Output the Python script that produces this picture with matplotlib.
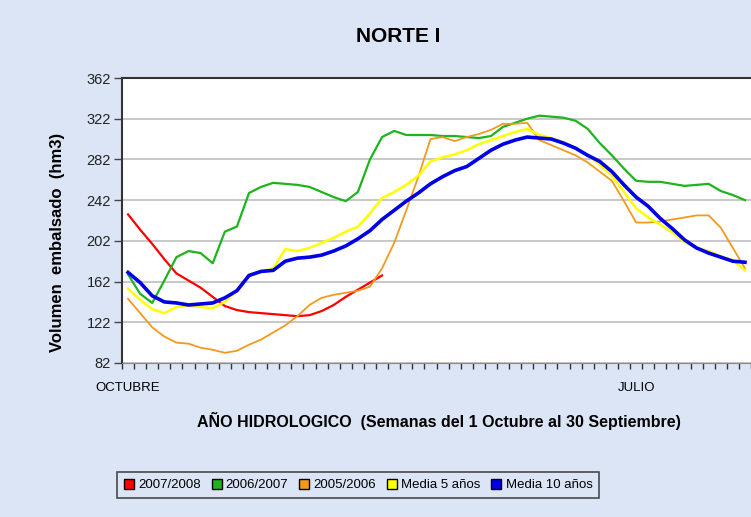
import numpy as np
import matplotlib
matplotlib.use('Agg')
import matplotlib.pyplot as plt
import matplotlib.ticker as ticker
from matplotlib.lines import Line2D

# Weekly stored volume (hm3), week 0 = 1 October
vol_0708 = [228, 213, 199, 184, 170, 163, 156, 147, 138, 134, 132, 131, 130, 129, 128, 129,
            133, 139, 147, 154, 161, 168]
vol_0607 = [169, 150, 141, 163, 186, 192, 190, 180, 211, 216, 249, 255, 259, 258, 257, 255,
            250, 245, 241, 250, 282, 304, 310, 306, 306, 306, 305, 305, 304, 303, 305, 314,
            318, 322, 325, 324, 323, 320, 312, 298, 286, 273, 261, 260, 260, 258, 256, 257,
            258, 251, 247, 242]
vol_0506 = [145, 131, 117, 108, 102, 101, 97, 95, 92, 94, 100, 105, 112, 119, 128, 139,
            146, 149, 151, 153, 157, 175, 200, 232, 265, 302, 304, 300, 304, 307, 311, 317,
            317, 318, 301, 296, 291, 286, 279, 270, 261, 241, 220, 220, 221, 223, 225, 227,
            227, 215, 195, 175]
media_5 = [155, 144, 135, 131, 137, 138, 137, 136, 142, 153, 169, 172, 175, 194, 192, 195,
           200, 205, 211, 216, 229, 244, 250, 257, 266, 280, 284, 287, 291, 297, 301, 305,
           309, 312, 306, 303, 299, 293, 286, 277, 266, 250, 234, 225, 218, 210, 201, 195,
           192, 187, 183, 173]
media_10 = [171, 161, 148, 142, 141, 139, 140, 141, 146, 153, 168, 172, 173, 182, 185, 186,
            188, 192, 197, 204, 212, 223, 232, 241, 249, 258, 265, 271, 275, 283, 291, 297,
            301, 304, 303, 302, 298, 293, 286, 280, 270, 257, 245, 236, 224, 214, 203, 195,
            190, 186, 182, 181]

labels = ['2007/2008', '2006/2007', '2005/2006', 'Media 5 años', 'Media 10 años']
colors = ['#ff0000', '#1db41d', '#f39a1e', '#ffff00', '#0000e6']
month_pos = [0, 42]
month_names = ['OCTUBRE', 'JULIO']
y_ticks = [82, 122, 162, 202, 242, 282, 322, 362]

bg = '#dbe5f5'
plt.rcParams['font.family'] = ['Liberation Sans', 'DejaVu Sans']

fig = plt.figure(figsize=(7.51, 5.17), dpi=100, facecolor=bg)
ax = fig.add_axes([122 / 751, 154 / 517, 629 / 751, 285 / 517])
ax.set_facecolor('white')

series = [vol_0708, vol_0607, vol_0506, media_5, media_10]
widths = [1.6, 1.6, 1.3, 1.8, 2.6]
for vals, c, lw in zip(series, colors, widths):
    ax.plot(np.arange(len(vals)), vals, color=c, lw=lw, zorder=3)

ax.set_xlim(-0.5, 51.5)
ax.set_ylim(82, 362)
ax.set_yticks(y_ticks)
ax.grid(axis='y', color='#c4c4c4', lw=1.3)
ax.set_axisbelow(True)

# month labels, category boundaries as minor ticks
ax.set_xticks(month_pos)
ax.set_xticklabels(month_names, fontsize=9.5)
ax.tick_params(axis='x', which='major', length=0, pad=14)
ax.xaxis.set_minor_locator(ticker.FixedLocator(np.arange(-0.5, 52, 1)))
ax.tick_params(axis='x', which='minor', length=4, width=1, color='#333333')
ax.tick_params(axis='y', length=6, width=1, color='#444444', labelsize=10.5, pad=2,
               labelcolor='#222222')

for s in ['left', 'top']:
    ax.spines[s].set_color('#333333')
    ax.spines[s].set_linewidth(1.5)
ax.spines['bottom'].set_color('#888888')
ax.spines['right'].set_visible(False)

fig.text(398 / 751, 1 - 37 / 517, 'NORTE I', ha='center', va='center',
         fontsize=15, fontweight='bold')
fig.text(58 / 751, 1 - 242 / 517, 'Volumen  embalsado  (hm3)', rotation=90,
         ha='center', va='center', fontsize=12, fontweight='bold')
fig.text(439 / 751, 1 - 421 / 517, 'AÑO HIDROLOGICO  (Semanas del 1 Octubre al 30 Septiembre)',
         ha='center', va='center', fontsize=11.5, fontweight='bold')

handles = [Line2D([], [], marker='s', ls='none', markersize=6.5, markerfacecolor=c,
                  markeredgecolor='black', markeredgewidth=1) for c in colors]
leg = fig.legend(handles, labels, ncol=5, loc='center', bbox_to_anchor=(358 / 751, 1 - 485 / 517),
                 fontsize=9.5, frameon=True, fancybox=False, edgecolor='#222222',
                 facecolor=bg, handletextpad=0.3, columnspacing=0.8, handlelength=0.8,
                 borderpad=0.5, borderaxespad=0)
leg.get_frame().set_linewidth(1.2)

fig.savefig('out.png', dpi=100, facecolor=bg)
